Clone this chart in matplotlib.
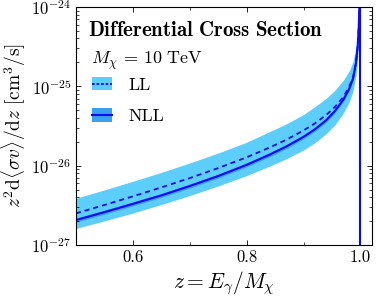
import matplotlib
matplotlib.use("Agg")
import numpy as np
import matplotlib.pyplot as plt
from matplotlib.patches import Patch
from matplotlib.lines import Line2D

plt.rcParams['font.family'] = 'serif'
plt.rcParams['font.serif'] = ['cmr10', 'DejaVu Serif']
plt.rcParams['mathtext.fontset'] = 'cm'
plt.rcParams['axes.formatter.use_mathtext'] = True

# Значення (log10 перерізу, см^3/с)
z = [0.50, 0.55, 0.60, 0.65, 0.70, 0.75, 0.80, 0.84, 0.87, 0.90,
     0.92, 0.94, 0.955, 0.97, 0.98, 0.987, 0.992, 0.995, 0.997, 0.999]
ll_mid_log = [-26.60, -26.495, -26.386, -26.274, -26.156, -26.030, -25.894, -25.772, -25.672, -25.556,
              -25.466, -25.360, -25.261, -25.132, -25.009, -24.885, -24.70, -24.50, -24.25, -23.80]
ll_hi_log = [-26.41, -26.305, -26.196, -26.084, -25.966, -25.84, -25.704, -25.572, -25.472, -25.356,
             -25.256, -25.15, -25.051, -24.922, -24.809, -24.685, -24.51, -24.32, -24.08, -23.65]
ll_lo_log = [-26.79, -26.695, -26.596, -26.489, -26.376, -26.255, -26.124, -26.007, -25.912, -25.801,
             -25.711, -25.595, -25.486, -25.337, -25.199, -25.06, -24.86, -24.65, -24.39, -23.92]
nll_mid_log = [-26.685, -26.585, -26.481, -26.374, -26.256, -26.13, -25.989, -25.862, -25.757, -25.636,
               -25.541, -25.425, -25.311, -25.167, -25.034, -24.90, -24.71, -24.505, -24.25, -23.80]
nll_hi_log = [-26.66, -26.56, -26.456, -26.349, -26.231, -26.105, -25.964, -25.837, -25.732, -25.611,
              -25.516, -25.40, -25.286, -25.142, -25.009, -24.875, -24.685, -24.48, -24.225, -23.775]
nll_lo_log = [-26.71, -26.61, -26.506, -26.399, -26.281, -26.155, -26.014, -25.887, -25.782, -25.661,
              -25.566, -25.45, -25.336, -25.192, -25.059, -24.925, -24.735, -24.53, -24.275, -23.825]
z_end = 1.0

c_ll = '#5dcefa'
c_nll = '#3a9ff0'
c_line = '#0a0af5'

fig = plt.figure(figsize=(3.76, 3.0), dpi=100)
ax = fig.add_axes([0.202, 0.183, 0.787, 0.794])

ax.fill_between(z, 10 ** np.array(ll_lo_log), 10 ** np.array(ll_hi_log), color=c_ll, lw=0)
ax.fill_between(z, 10 ** np.array(nll_lo_log), 10 ** np.array(nll_hi_log), color=c_nll, lw=0)
ax.plot(z, 10 ** np.array(ll_mid_log), color=c_line, lw=1.3, ls=(0, (2.8, 2.2)))
ax.plot(z, 10 ** np.array(nll_mid_log), color=c_line, lw=1.5)
ax.axvline(z_end, color=c_line, lw=1.5)

ax.set_yscale('log')
ax.set_xlim(0.5, 1.02)
ax.set_ylim(1e-27, 1e-24)
ax.set_xticks([0.6, 0.8, 1.0])
ax.set_xticklabels(['0.6', '0.8', '1.0'])
ax.set_xticks([0.5, 0.7, 0.9], minor=True)
ax.tick_params(which='both', direction='in', top=True, right=True, labelsize=12)
ax.tick_params(which='major', length=3.5, width=0.6)
ax.tick_params(which='minor', length=2, width=0.5)
for s in ax.spines.values():
    s.set_linewidth(0.8)

ax.set_xlabel(r'$z = E_\gamma/M_\chi$', fontsize=15.5, labelpad=3)
ax.set_ylabel(r'$z^2\mathrm{d}\langle\sigma v\rangle/\mathrm{d}z\ [\mathrm{cm}^3/\mathrm{s}]$',
              fontsize=14, labelpad=2)

ax.text(0.04, 0.9, r'$\mathbf{Differential\ Cross\ Section}$', transform=ax.transAxes,
        fontsize=15, ha='left', va='center')
ax.text(0.05, 0.775, r'$M_\chi\, =\, 10\ \mathrm{TeV}$', transform=ax.transAxes,
        fontsize=13, ha='left', va='center')

handles = [(Patch(color=c_ll, lw=0), Line2D([], [], color=c_line, lw=1.3, ls=(0, (1.5, 1)))),
           (Patch(color=c_nll, lw=0), Line2D([], [], color=c_line, lw=1.5))]
ax.legend(handles, ['LL', 'NLL'], loc='upper left', bbox_to_anchor=(0.055, 0.705),
          frameon=False, fontsize=13, handlelength=1.1, handleheight=0.75,
          handletextpad=0.9, labelspacing=0.85, borderpad=0, borderaxespad=0)

fig.savefig('out.png', dpi=100)
